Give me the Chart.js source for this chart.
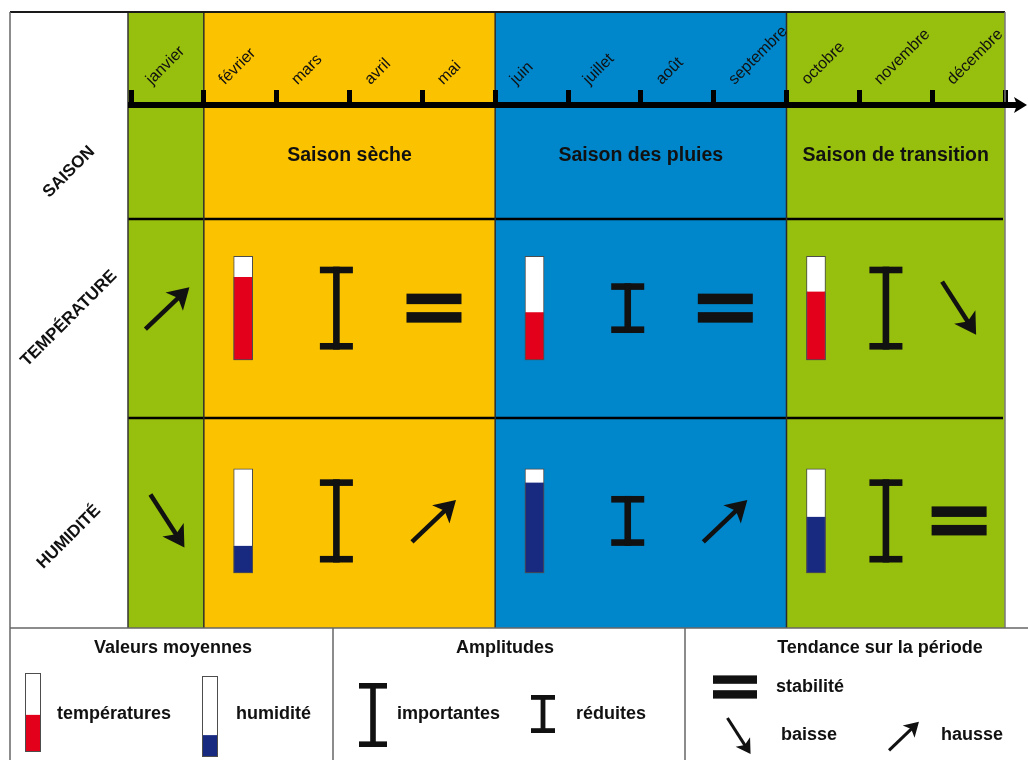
<!DOCTYPE html>
<html lang="fr">
<head>
<meta charset="utf-8">
<title>Saisons, températures et humidité</title>
<script src="https://cdn.jsdelivr.net/npm/chart.js@4.4.1/dist/chart.umd.min.js"></script>
<style>
  html, body { margin: 0; padding: 0; background: #fff; }
  #wrap { width: 1028px; height: 760px; position: relative; }
</style>
</head>
<body>
<div id="wrap"><canvas id="climat"></canvas></div>
<script>
const FONT = '"Liberation Sans", Arial, Helvetica, sans-serif';
const INK = "#111";
const RED = "#e2001a";
const NAVY = "#182a80";
const TUBE_EDGE = "#4d4d4d";

const months = ["janvier", "février", "mars", "avril", "mai", "juin",
  "juillet", "août", "septembre", "octobre", "novembre", "décembre"];

// Seasons (month index where each one starts / ends)
const seasonNames = ["", "Saison sèche", "Saison des pluies", "Saison de transition"];
const seasonStart = [0, 1, 5, 9];
const seasonEnd = [1, 5, 9, 12];
const seasonColors = ["#97bf0d", "#fbc200", "#0086cb", "#97bf0d"];

const rowLabels = ["SAISON", "TEMPÉRATURE", "HUMIDITÉ"];

// Mean values, as a % of the gauge (null = no gauge in that column)
const tempMean = [null, 80, 46, 66];
const humMean = [null, 26, 87, 54];

// Amplitudes
const tempAmplitude = [null, "importantes", "réduites", "importantes"];
const humAmplitude = [null, "importantes", "réduites", "importantes"];

// Trend over the period
const tempTrend = ["hausse", "stabilité", "stabilité", "baisse"];
const humTrend = ["baisse", "hausse", "hausse", "stabilité"];

// where each symbol sits inside its season column (fraction of the width)
const slot = { gauge: 0.135, amplitude: 0.455, trend: 0.79, alone: 0.5 };
// height of the "I" symbol, in gauge units
const ampRange = { importantes: [10, 90], "réduites": [26, 74] };

const slotX = (i, key) => seasonStart[i] + slot[key] * (seasonEnd[i] - seasonStart[i]);

const gaugePoints = (values, full) =>
  values
    .map((v, i) => (v === null ? null : { x: slotX(i, "gauge"), y: [0, full ? 100 : v] }))
    .filter(Boolean);

// ---- drawing helpers ----
function drawAmplitude(ctx, cx, top, bottom, w) {
  const serif = w * 0.2, stem = w * 0.2;
  ctx.fillStyle = INK;
  ctx.fillRect(cx - w / 2, top, w, serif);
  ctx.fillRect(cx - w / 2, bottom - serif, w, serif);
  ctx.fillRect(cx - stem / 2, top, stem, bottom - top);
}

function drawArrow(ctx, x0, y0, x1, y1, lw, head) {
  const len = Math.hypot(x1 - x0, y1 - y0);
  const ux = (x1 - x0) / len, uy = (y1 - y0) / len;
  const nx = -uy, ny = ux;
  ctx.strokeStyle = INK;
  ctx.fillStyle = INK;
  ctx.lineWidth = lw;
  ctx.lineCap = "butt";
  ctx.beginPath();
  ctx.moveTo(x0, y0);
  ctx.lineTo(x1 - ux * head * 0.7, y1 - uy * head * 0.7);
  ctx.stroke();
  ctx.beginPath();
  ctx.moveTo(x1, y1);
  ctx.lineTo(x1 - ux * head + nx * head * 0.6, y1 - uy * head + ny * head * 0.6);
  ctx.lineTo(x1 - ux * head * 0.75, y1 - uy * head * 0.75);
  ctx.lineTo(x1 - ux * head - nx * head * 0.6, y1 - uy * head - ny * head * 0.6);
  ctx.closePath();
  ctx.fill();
}

function drawTrend(ctx, kind, cx, cy, k) {
  ctx.fillStyle = INK;
  if (kind === "stabilité") {
    const w = 55 * k, bar = 10.5 * k, gap = 8 * k;
    ctx.fillRect(cx - w / 2, cy - gap / 2 - bar, w, bar);
    ctx.fillRect(cx - w / 2, cy + gap / 2, w, bar);
    return;
  }
  const [dx, dy] = kind === "hausse" ? [44, -42] : [34, 53];
  drawArrow(ctx, cx - (dx * k) / 2, cy - (dy * k) / 2, cx + (dx * k) / 2, cy + (dy * k) / 2, 4.5 * k, 21 * k);
}

function drawGauge(ctx, x, top, bottom, w, pct, color) {
  const yFill = bottom - ((bottom - top) * pct) / 100;
  ctx.fillStyle = "#fff";
  ctx.fillRect(x, top, w, bottom - top);
  ctx.fillStyle = color;
  ctx.fillRect(x, yFill, w, bottom - yFill);
  ctx.strokeStyle = TUBE_EDGE;
  ctx.lineWidth = 1;
  ctx.strokeRect(x + 0.5, top + 0.5, w - 1, bottom - top - 1);
}

function line(ctx, x0, y0, x1, y1, color, width) {
  ctx.strokeStyle = color;
  ctx.lineWidth = width;
  ctx.beginPath();
  ctx.moveTo(x0, y0);
  ctx.lineTo(x1, y1);
  ctx.stroke();
}

function text(ctx, str, x, y, size, align, bold, rot) {
  ctx.save();
  ctx.translate(x, y);
  if (rot) ctx.rotate(rot);
  ctx.font = (bold ? "bold " : "") + size + "px " + FONT;
  ctx.fillStyle = INK;
  ctx.textAlign = align;
  ctx.textBaseline = "middle";
  ctx.fillText(str, 0, 0);
  ctx.restore();
}

// ---- backgrounds, symbols, legend ----
const decor = {
  id: "decor",
  beforeDraw(chart) {
    const { ctx, chartArea: a, scales } = chart;
    const xm = scales.xm;
    const top = a.top - scales.x.height;
    ctx.save();
    ctx.fillStyle = "#fff";
    ctx.fillRect(0, 0, chart.width, chart.height);

    seasonStart.forEach((s, i) => {
      const x0 = i === 0 ? a.left - 3 : xm.getPixelForValue(s);
      const x1 = xm.getPixelForValue(seasonEnd[i]);
      ctx.fillStyle = seasonColors[i];
      ctx.fillRect(x0, top, x1 - x0, a.bottom - top);
    });

    // row separators
    [scales.yTemp.top, scales.yHum.top].forEach((y) => line(ctx, a.left - 3, y, a.right - 2, y, "#000", 2.5));
    // season separators
    seasonStart.slice(1).forEach((s) => {
      const x = xm.getPixelForValue(s);
      line(ctx, x, top, x, a.bottom, "#2b2b2b", 1.5);
    });
    line(ctx, a.left - 3, top, a.left - 3, a.bottom, "#333", 1.5);
    ctx.restore();
  },

  afterDraw(chart) {
    const { ctx, chartArea: a, scales } = chart;
    const { xm, ySaison, yTemp, yHum } = scales;
    const top = a.top - scales.x.height;
    const left = 10;
    ctx.save();

    // frame
    line(ctx, left, top, a.right, top, "#1a1a1a", 2);
    line(ctx, left, top, left, chart.height, "#666", 1.5);
    line(ctx, a.right, top, a.right, a.bottom, "#777", 1.5);

    // arrow at the end of the month axis
    line(ctx, a.right - 2, a.top, chart.width - 10, a.top, "#000", 6);
    ctx.fillStyle = "#000";
    ctx.beginPath();
    ctx.moveTo(chart.width - 1, a.top);
    ctx.lineTo(chart.width - 14, a.top - 8);
    ctx.lineTo(chart.width - 11, a.top);
    ctx.lineTo(chart.width - 14, a.top + 8);
    ctx.closePath();
    ctx.fill();

    // season names
    seasonNames.forEach((name, i) => {
      if (!name) return;
      const cx = (xm.getPixelForValue(seasonStart[i]) + xm.getPixelForValue(seasonEnd[i])) / 2;
      text(ctx, name, cx, (ySaison.top + ySaison.bottom) / 2 - 6, 19.5, "center", true);
    });

    // row labels
    const labelShift = [10, 0, 14];
    [ySaison, yTemp, yHum].forEach((sc, r) => {
      text(ctx, rowLabels[r], (left + a.left - 3) / 2, (sc.top + sc.bottom) / 2 + labelShift[r], 17, "center", true, -Math.PI / 4);
    });

    // amplitude and trend symbols
    const rows = [
      { scale: yTemp, mean: tempMean, amp: tempAmplitude, trend: tempTrend },
      { scale: yHum, mean: humMean, amp: humAmplitude, trend: humTrend },
    ];
    rows.forEach(({ scale, mean, amp, trend }) => {
      seasonStart.forEach((_, i) => {
        if (amp[i]) {
          const [lo, hi] = ampRange[amp[i]];
          drawAmplitude(ctx, xm.getPixelForValue(slotX(i, "amplitude")),
            scale.getPixelForValue(hi), scale.getPixelForValue(lo), 33);
        }
        const tx = xm.getPixelForValue(slotX(i, mean[i] === null ? "alone" : "trend"));
        drawTrend(ctx, trend[i], tx, scale.getPixelForValue(50), 1);
      });
    });

    // legend
    const ly = a.bottom;
    const div1 = 333, div2 = 685;
    line(ctx, left, ly, chart.width, ly, "#666", 1.5);
    line(ctx, div1, ly, div1, chart.height, "#666", 1.5);
    line(ctx, div2, ly, div2, chart.height, "#666", 1.5);

    text(ctx, "Valeurs moyennes", 173, ly + 20, 18, "center", true);
    drawGauge(ctx, 25, ly + 45, ly + 124, 16, 47, RED);
    text(ctx, "températures", 57, ly + 86, 18, "left", true);
    drawGauge(ctx, 202, ly + 48, ly + 129, 16, 27, NAVY);
    text(ctx, "humidité", 236, ly + 86, 18, "left", true);

    text(ctx, "Amplitudes", 505, ly + 20, 18, "center", true);
    drawAmplitude(ctx, 373, ly + 55, ly + 119, 28);
    text(ctx, "importantes", 397, ly + 86, 18, "left", true);
    drawAmplitude(ctx, 543, ly + 67, ly + 105, 24);
    text(ctx, "réduites", 576, ly + 86, 18, "left", true);

    text(ctx, "Tendance sur la période", 880, ly + 20, 18, "center", true);
    drawTrend(ctx, "stabilité", 735, ly + 59, 0.8);
    text(ctx, "stabilité", 776, ly + 59, 18, "left", true);
    drawTrend(ctx, "baisse", 739, ly + 108, 0.68);
    text(ctx, "baisse", 781, ly + 107, 18, "left", true);
    drawTrend(ctx, "hausse", 904, ly + 108, 0.68);
    text(ctx, "hausse", 941, ly + 107, 18, "left", true);

    ctx.restore();
  },
};

const hiddenY = (weight, order, min, max) => ({
  type: "linear",
  axis: "y",
  position: "left",
  stack: "rows",
  stackWeight: weight,
  weight: order,
  min: min,
  max: max,
  display: false,
});

new Chart(document.getElementById("climat"), {
  type: "bar",
  data: {
    datasets: [
      {
        label: "températures",
        data: gaugePoints(tempMean, false),
        xAxisID: "xm",
        yAxisID: "yTemp",
        backgroundColor: RED,
        borderColor: TUBE_EDGE,
        borderWidth: { left: 1, right: 1, bottom: 1, top: 0 },
        borderSkipped: false,
        order: 0,
      },
      {
        label: "jauge températures",
        data: gaugePoints(tempMean, true),
        xAxisID: "xm",
        yAxisID: "yTemp",
        backgroundColor: "#fff",
        borderColor: TUBE_EDGE,
        borderWidth: 1,
        borderSkipped: false,
        order: 1,
      },
      {
        label: "humidité",
        data: gaugePoints(humMean, false),
        xAxisID: "xm",
        yAxisID: "yHum",
        backgroundColor: NAVY,
        borderColor: TUBE_EDGE,
        borderWidth: { left: 1, right: 1, bottom: 1, top: 0 },
        borderSkipped: false,
        order: 0,
      },
      {
        label: "jauge humidité",
        data: gaugePoints(humMean, true),
        xAxisID: "xm",
        yAxisID: "yHum",
        backgroundColor: "#fff",
        borderColor: TUBE_EDGE,
        borderWidth: 1,
        borderSkipped: false,
        order: 1,
      },
    ],
  },
  options: {
    responsive: true,
    maintainAspectRatio: false,
    animation: false,
    layout: { padding: { top: 12, left: 131, right: 23, bottom: 132 } },
    datasets: { bar: { barThickness: 19, grouped: false } },
    plugins: { legend: { display: false }, tooltip: { enabled: false } },
    scales: {
      x: {
        type: "category",
        labels: months,
        position: "top",
        offset: true,
        grid: { offset: true, drawOnChartArea: false, drawTicks: true, tickLength: 15, tickWidth: 5, tickColor: "#000" },
        border: { display: true, color: "#000", width: 6 },
        ticks: {
          autoSkip: false,
          minRotation: 45,
          maxRotation: 45,
          padding: 1,
          labelOffset: -5,
          color: INK,
          font: { family: FONT, size: 16 },
        },
        afterFit: (scale) => {
          scale.height = 93;
        },
      },
      xm: { type: "linear", axis: "x", position: "bottom", min: 0, max: 12, offset: false, display: false },
      ySaison: hiddenY(114, 3, 0, 1),
      yTemp: hiddenY(199, 2, -56, 136),
      yHum: hiddenY(210, 1, -53, 149),
    },
  },
  plugins: [decor],
});
</script>
</body>
</html>
